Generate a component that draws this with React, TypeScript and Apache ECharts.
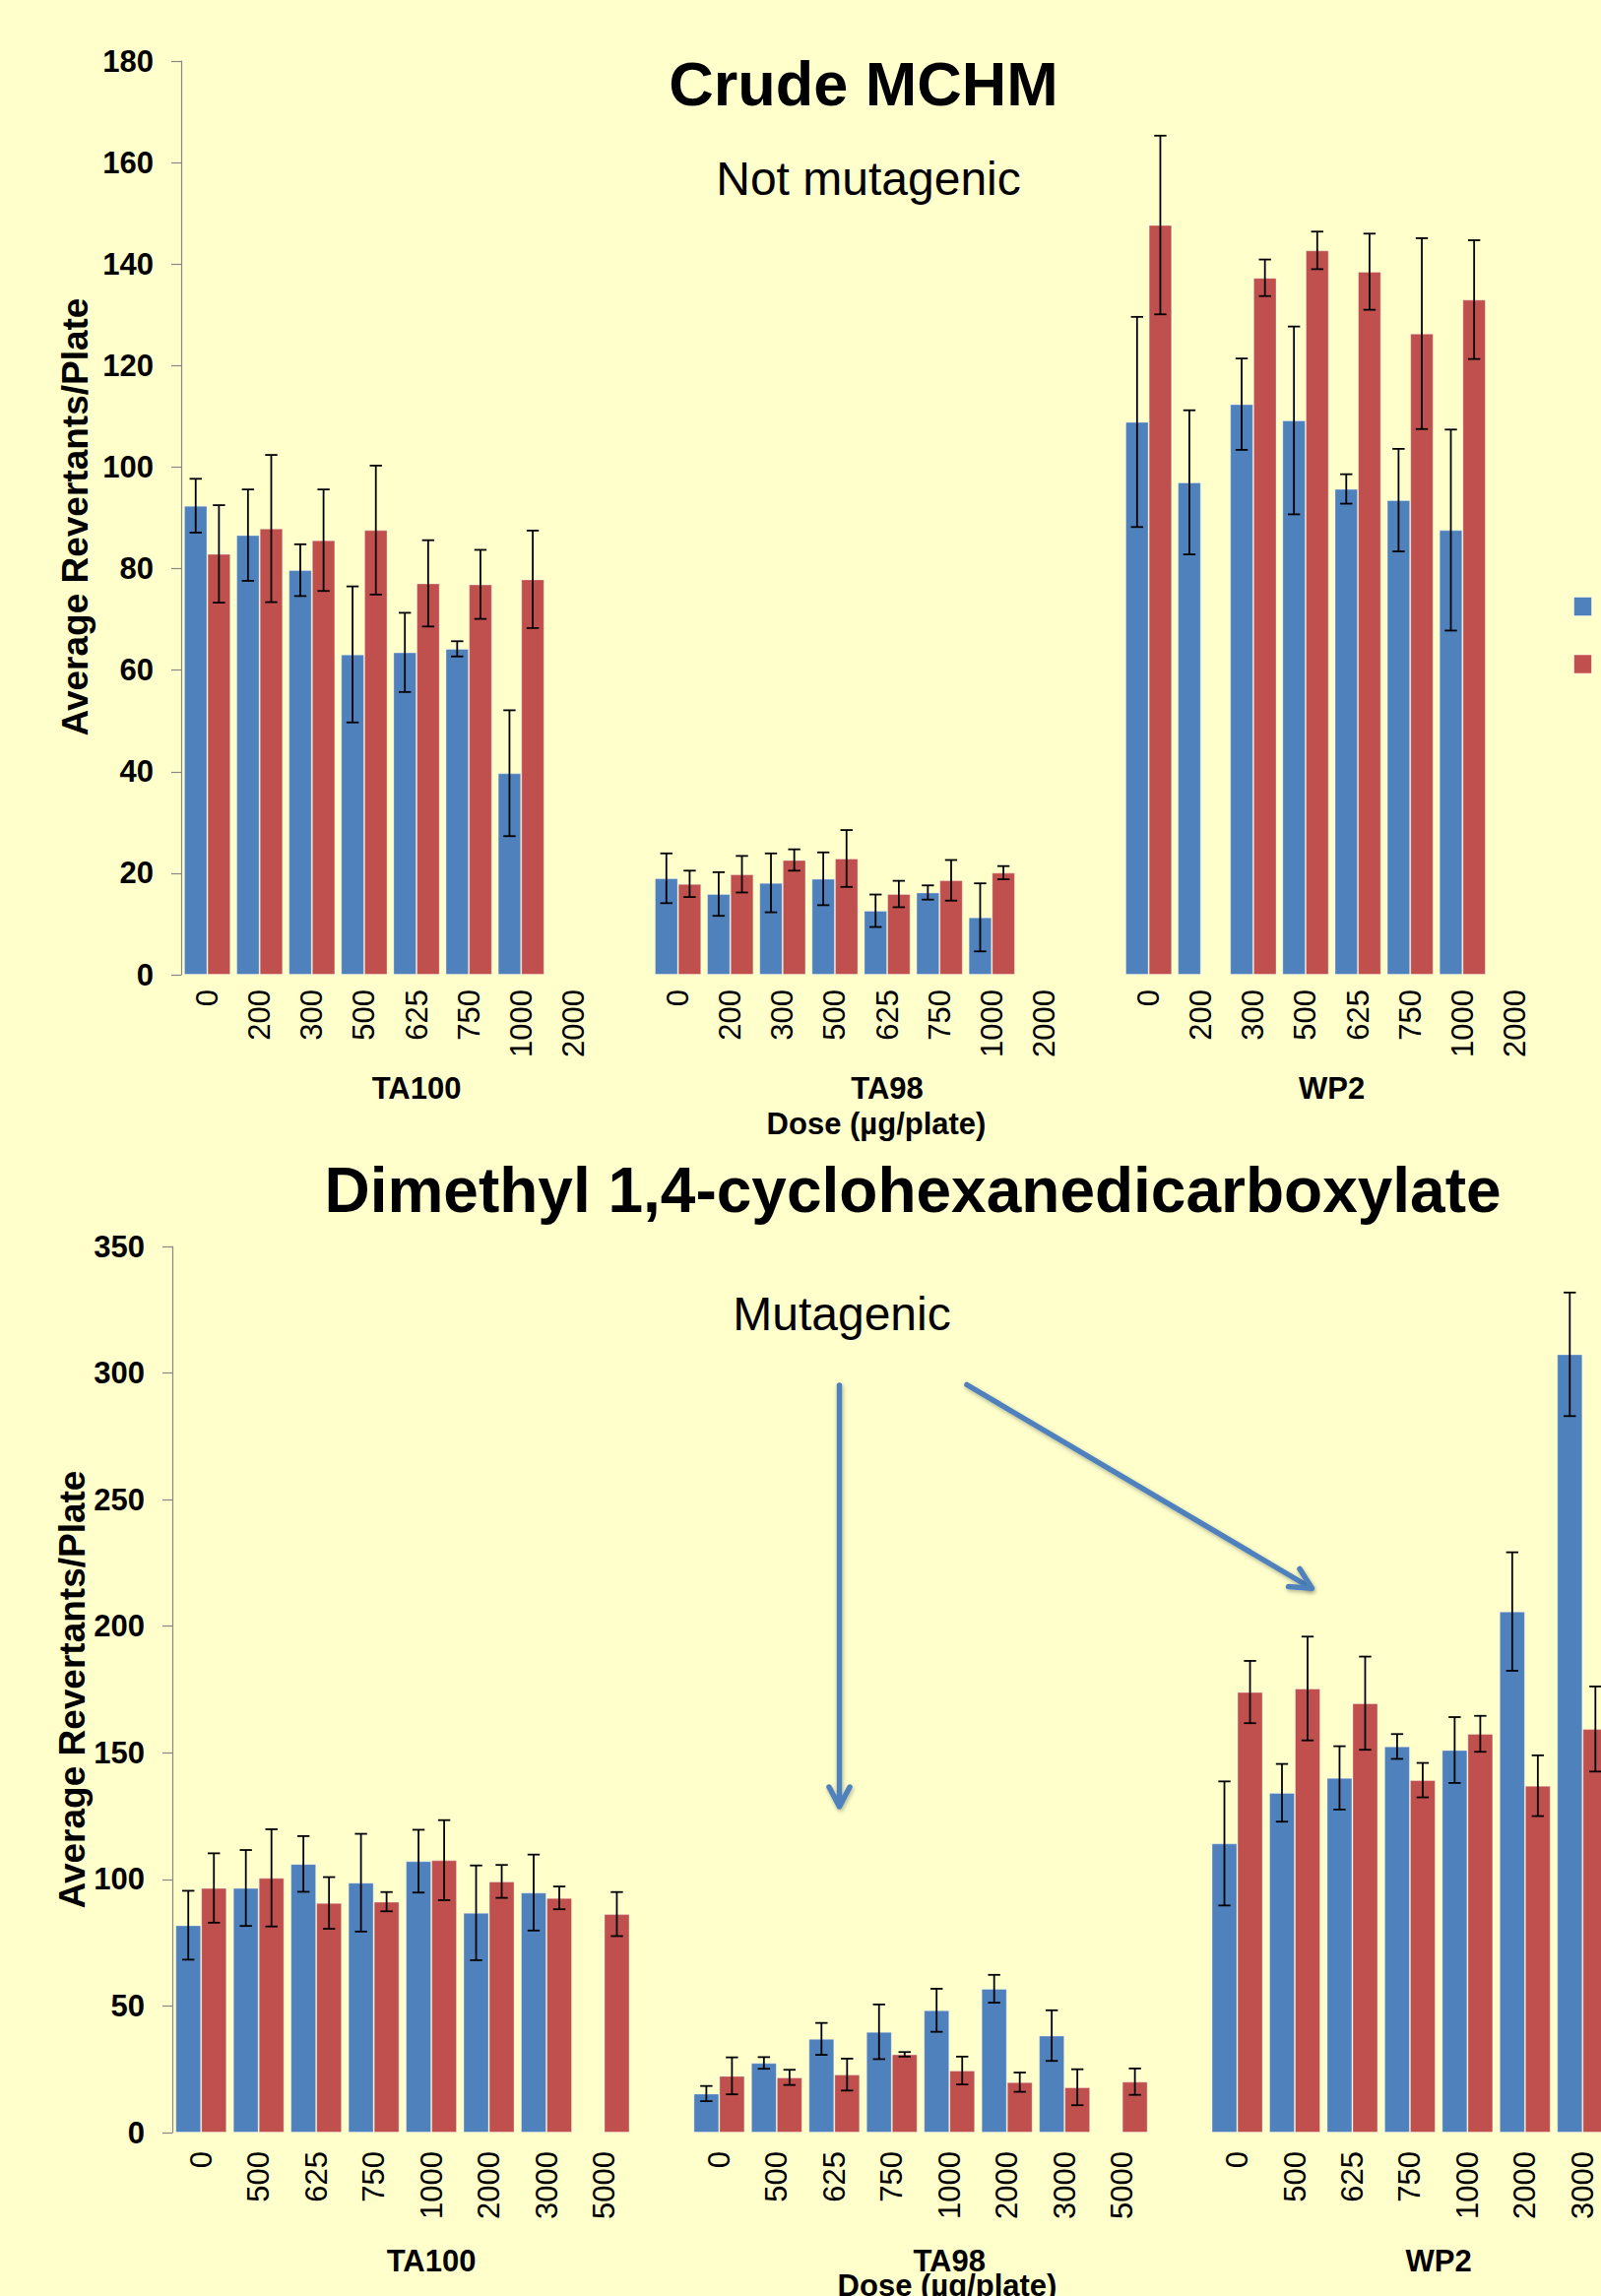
import React, { useEffect, useRef } from 'react';
import * as echarts from 'echarts';

// ---------- Data: Crude MCHM (top chart) ----------
const mchmDoses = ['0', '200', '300', '500', '625', '750', '1000', '2000'];
const mchmTA100Blue = [92.4, 86.6, 79.7, 63.1, 63.5, 64.2, 39.7, null];
const mchmTA100BlueErr = [5.3, 9.0, 5.1, 13.4, 7.8, 1.5, 12.4, null];
const mchmTA100Red = [82.9, 87.9, 85.6, 87.6, 77.1, 76.9, 77.9, null];
const mchmTA100RedErr = [9.6, 14.5, 10.0, 12.7, 8.5, 6.8, 9.6, null];
const mchmTA98Blue = [19.0, 15.9, 18.1, 18.9, 12.6, 16.2, 11.3, null];
const mchmTA98BlueErr = [4.9, 4.3, 5.8, 5.2, 3.2, 1.4, 6.7, null];
const mchmTA98Red = [17.9, 19.8, 22.6, 22.9, 15.9, 18.6, 20.1, null];
const mchmTA98RedErr = [2.6, 3.6, 2.1, 5.6, 2.6, 4.0, 1.3, null];
const mchmWP2Blue = [108.9, 97.0, 112.4, 109.2, 95.7, 93.5, 87.6, null];
const mchmWP2BlueErr = [20.7, 14.2, 9.0, 18.5, 2.9, 10.1, 19.8, null];
const mchmWP2Red = [147.7, null, 137.3, 142.7, 138.5, 126.3, 133.0, null];
const mchmWP2RedErr = [17.6, null, 3.6, 3.7, 7.5, 18.8, 11.7, null];

// ---------- Data: Dimethyl 1,4-cyclohexanedicarboxylate (bottom chart) ----------
const dmcdDoses = ['0', '500', '625', '750', '1000', '2000', '3000', '5000'];
const dmcdTA100Blue = [81.9, 96.6, 106.1, 98.7, 107.2, 86.8, 94.8, null];
const dmcdTA100BlueErr = [13.6, 15.0, 11.0, 19.3, 12.4, 18.7, 15.0, null];
const dmcdTA100Red = [96.6, 100.6, 90.7, 91.2, 107.6, 99.2, 92.7, 86.3];
const dmcdTA100RedErr = [13.7, 19.2, 10.2, 3.8, 15.8, 6.5, 4.5, 8.7];
const dmcdTA98Blue = [15.4, 27.5, 37.0, 39.8, 48.3, 56.8, 38.3, null];
const dmcdTA98BlueErr = [3.0, 2.3, 6.3, 10.8, 8.5, 5.5, 10.0, null];
const dmcdTA98Red = [22.4, 21.8, 22.9, 30.9, 24.5, 19.9, 17.9, 20.1];
const dmcdTA98RedErr = [7.3, 3.0, 6.3, 0.9, 5.5, 3.8, 7.1, 5.2];
const dmcdWP2Blue = [114.2, 134.2, 140.1, 152.5, 151.1, 205.8, 307.4, null];
const dmcdWP2BlueErr = [24.5, 11.4, 12.5, 4.9, 13.0, 23.4, 24.4, null];
const dmcdWP2Red = [174.0, 175.4, 169.6, 139.2, 157.5, 137.0, 159.4, null];
const dmcdWP2RedErr = [12.3, 20.5, 18.4, 6.8, 7.1, 12.0, 16.8, null];

const strains = ['TA100', 'TA98', 'WP2'];
const seriesNames = ['-S9', '+S9'];
const topTicks = [0, 180, 20];
const bottomTicks = [0, 350, 50];

// ---------- Style constants ----------
const BG = '#FFFFCC';
const BLUE = '#4F81BD';
const RED = '#C0504D';
const FONT = '"Liberation Sans", Arial, Helvetica, sans-serif';
const GAP = 0.11;
const CAP = 6.2;

// join three strains with a blank slot between them
function joinGroups<T>(a: T[], b: T[], c: T[]): (T | null)[] {
  return [...a, null, ...b, null, ...c];
}
function joinLabels(doses: string[]): string[] {
  return [...doses, '', ...doses, '', ...doses];
}
function joinKeys(doses: string[]): string[] {
  const out: string[] = [];
  strains.forEach((s, si) => {
    doses.forEach((d) => out.push(s + '|' + d));
    if (si < strains.length - 1) out.push(s + '|gap');
  });
  return out;
}
function errData(vals: (number | null)[], errs: (number | null)[]) {
  const out: number[][] = [];
  vals.forEach((v, i) => {
    if (v != null && errs[i] != null) out.push([i, v, errs[i] as number]);
  });
  return out;
}

function errorSeries(name: string, data: number[][], axis: number, side: number) {
  return {
    type: 'custom',
    name,
    xAxisIndex: axis,
    yAxisIndex: axis,
    data,
    encode: { x: 0, y: 1 },
    z: 10,
    silent: true,
    renderItem: (params: any, api: any) => {
      const i = api.value(0);
      const v = api.value(1);
      const e = api.value(2);
      const band = api.size([1, 0])[0];
      const barW = (band * (1 - GAP)) / 2;
      const hi = api.coord([i, v + e]);
      const lo = api.coord([i, v - e]);
      const x = hi[0] + (side * barW) / 2;
      const style = { stroke: '#000', lineWidth: 1.8 };
      return {
        type: 'group',
        children: [
          { type: 'line', shape: { x1: x, y1: hi[1], x2: x, y2: lo[1] }, style },
          { type: 'line', shape: { x1: x - CAP, y1: hi[1], x2: x + CAP, y2: hi[1] }, style },
          { type: 'line', shape: { x1: x - CAP, y1: lo[1], x2: x + CAP, y2: lo[1] }, style },
        ],
      };
    },
  };
}

function barSeries(name: string, data: (number | null)[], axis: number, color: string) {
  return {
    type: 'bar',
    name,
    xAxisIndex: axis,
    yAxisIndex: axis,
    data,
    barGap: '0%',
    barCategoryGap: GAP * 100 + '%',
    itemStyle: { color, borderColor: 'rgba(255,255,255,0.35)', borderWidth: 1 },
  };
}

function xAxisCfg(gridIndex: number, keys: string[], labels: string[], margin: number) {
  return {
    type: 'category',
    gridIndex,
    data: keys,
    axisLine: { show: false },
    axisTick: { show: false },
    axisLabel: {
      interval: 0,
      rotate: 90,
      margin,
      fontSize: 31,
      fontFamily: FONT,
      color: '#000',
      formatter: (_v: string, i: number) => labels[i],
    },
  };
}

function yAxisCfg(gridIndex: number, ticks: number[]) {
  return {
    type: 'value',
    gridIndex,
    min: ticks[0],
    max: ticks[1],
    interval: ticks[2],
    axisLine: { show: true, lineStyle: { color: '#878787', width: 1.2 } },
    axisTick: { show: true, length: 10, lineStyle: { color: '#878787', width: 1.2 } },
    splitLine: { show: false },
    axisLabel: { fontSize: 31, fontWeight: 'bold', fontFamily: FONT, color: '#000', margin: 28 },
  };
}

export default function App() {
  const ref = useRef<HTMLDivElement>(null);

  useEffect(() => {
    if (!ref.current) return;
    const chart = echarts.init(ref.current, null, { renderer: 'svg' });

    const topKeys = joinKeys(mchmDoses);
    const topLabels = joinLabels(mchmDoses);
    const botKeys = joinKeys(dmcdDoses);
    const botLabels = joinLabels(dmcdDoses);

    const topBlue = joinGroups(mchmTA100Blue, mchmTA98Blue, mchmWP2Blue);
    const topBlueErr = joinGroups(mchmTA100BlueErr, mchmTA98BlueErr, mchmWP2BlueErr);
    const topRed = joinGroups(mchmTA100Red, mchmTA98Red, mchmWP2Red);
    const topRedErr = joinGroups(mchmTA100RedErr, mchmTA98RedErr, mchmWP2RedErr);
    const botBlue = joinGroups(dmcdTA100Blue, dmcdTA98Blue, dmcdWP2Blue);
    const botBlueErr = joinGroups(dmcdTA100BlueErr, dmcdTA98BlueErr, dmcdWP2BlueErr);
    const botRed = joinGroups(dmcdTA100Red, dmcdTA98Red, dmcdWP2Red);
    const botRedErr = joinGroups(dmcdTA100RedErr, dmcdTA98RedErr, dmcdWP2RedErr);

    const option: any = {
      animation: false,
      backgroundColor: BG,
      textStyle: { fontFamily: FONT },
      legend: {
        data: seriesNames,
        orient: 'vertical',
        left: 1598,
        top: 606,
        padding: 0,
        icon: 'rect',
        itemWidth: 18,
        itemHeight: 19,
        itemGap: 38.5,
        textStyle: { fontSize: 14, lineHeight: 19, color: '#000', padding: [0, 0, 0, 20] },
        itemStyle: { borderColor: 'rgba(255,255,255,0.5)', borderWidth: 1 },
      },
      grid: [
        { left: 184, top: 62, width: 1381, height: 928 },
        { left: 175, top: 1266, width: 1520, height: 900 },
      ],
      xAxis: [xAxisCfg(0, topKeys, topLabels, 15), xAxisCfg(1, botKeys, botLabels, 19)],
      yAxis: [yAxisCfg(0, topTicks), yAxisCfg(1, bottomTicks)],
      series: [
        barSeries(seriesNames[0], topBlue, 0, BLUE),
        barSeries(seriesNames[1], topRed, 0, RED),
        barSeries(seriesNames[0], botBlue, 1, BLUE),
        barSeries(seriesNames[1], botRed, 1, RED),
        errorSeries('err ' + seriesNames[0], errData(topBlue, topBlueErr), 0, -1),
        errorSeries('err ' + seriesNames[1], errData(topRed, topRedErr), 0, 1),
        errorSeries('err ' + seriesNames[0], errData(botBlue, botBlueErr), 1, -1),
        errorSeries('err ' + seriesNames[1], errData(botRed, botRedErr), 1, 1),
      ],
    };
    chart.setOption(option);

    // group label centres computed through the axis scale
    const groupRanges = (n: number) => [
      [0, n],
      [n + 1, 2 * n + 1],
      [2 * n + 2, 3 * n + 1],
    ];
    const centre = (axis: number, a: number, b: number) => {
      const pa = chart.convertToPixel({ xAxisIndex: axis }, a) as number;
      const pb = chart.convertToPixel({ xAxisIndex: axis }, b) as number;
      return (pa + pb) / 2;
    };
    const txt = (text: string, x: number, y: number, font: string, rotation = 0) => ({
      type: 'text',
      x,
      y,
      rotation,
      style: { text, font, fill: '#000', align: 'center', verticalAlign: 'middle' },
    });
    const groupLabels: any[] = [];
    groupRanges(mchmDoses.length).forEach((r, i) =>
      groupLabels.push(txt(strains[i], centre(0, r[0], r[1]), 1105, 'bold 31px ' + FONT))
    );
    groupRanges(dmcdDoses.length).forEach((r, i) =>
      groupLabels.push(txt(strains[i], centre(1, r[0], r[1]), 2296, 'bold 31px ' + FONT))
    );

    const arrowStyle = {
      stroke: BLUE,
      lineWidth: 5.5,
      lineCap: 'round',
      lineJoin: 'round',
      fill: null,
      shadowBlur: 4,
      shadowOffsetX: 1,
      shadowOffsetY: 2,
      shadowColor: 'rgba(0,0,0,0.3)',
    };

    chart.setOption({
      graphic: {
        elements: [
          txt('Crude MCHM', 877, 85, 'bold 63px ' + FONT),
          txt('Not mutagenic', 882, 181, '48px ' + FONT),
          txt('Dimethyl 1,4-cyclohexanedicarboxylate', 927, 1209, 'bold 64px ' + FONT),
          txt('Mutagenic', 855, 1334, '48px ' + FONT),
          txt('Average Revertants/Plate', 76, 525, 'bold 37px ' + FONT, Math.PI / 2),
          txt('Average Revertants/Plate', 73, 1716, 'bold 37px ' + FONT, Math.PI / 2),
          txt('Dose (µg/plate)', 890, 1141, 'bold 31px ' + FONT),
          txt('Dose (µg/plate)', 962, 2321, 'bold 31px ' + FONT),
          ...groupLabels,
          {
            type: 'polyline',
            shape: {
              points: [
                [842, 1815],
                [852.5, 1835],
                [852.5, 1407],
                [852.5, 1835],
                [863, 1815],
              ],
            },
            style: arrowStyle,
          },
          { type: 'polyline', shape: { points: [[982, 1406.5], [1330, 1612]] }, style: arrowStyle },
          {
            type: 'polyline',
            shape: { points: [[1308.5, 1611.5], [1332.5, 1613.3], [1320, 1593.5]] },
            style: arrowStyle,
          },
        ],
      },
    });

    return () => chart.dispose();
  }, []);

  return (
    <div
      style={{
        position: 'absolute',
        left: 0,
        top: 0,
        width: 1626,
        height: 2332,
        overflow: 'hidden',
        background: BG,
      }}
    >
      <div ref={ref} style={{ width: 1800, height: 2332 }} />
    </div>
  );
}
